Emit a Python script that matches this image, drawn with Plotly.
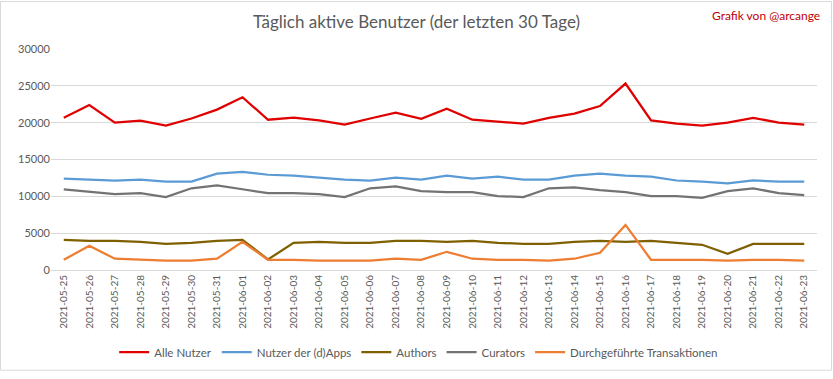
import plotly.graph_objects as go

dates = ["2021-05-25", "2021-05-26", "2021-05-27", "2021-05-28", "2021-05-29", "2021-05-30",
         "2021-05-31", "2021-06-01", "2021-06-02", "2021-06-03", "2021-06-04", "2021-06-05",
         "2021-06-06", "2021-06-07", "2021-06-08", "2021-06-09", "2021-06-10", "2021-06-11",
         "2021-06-12", "2021-06-13", "2021-06-14", "2021-06-15", "2021-06-16", "2021-06-17",
         "2021-06-18", "2021-06-19", "2021-06-20", "2021-06-21", "2021-06-22", "2021-06-23"]

alle_nutzer = [20660, 22390, 20000, 20270, 19600, 20570, 21770, 23450, 20400, 20700,
               20300, 19730, 20570, 21370, 20530, 21900, 20400, 20130, 19870, 20660,
               21240, 22260, 25310, 20300, 19870, 19600, 20000, 20660, 20000, 19730]
dapps = [12410, 12280, 12150, 12280, 12010, 12010, 13070, 13330, 12930, 12800,
         12540, 12280, 12150, 12540, 12280, 12800, 12410, 12670, 12280, 12280,
         12800, 13070, 12800, 12670, 12150, 12010, 11750, 12150, 12010, 12010]
authors = [4090, 3960, 3960, 3820, 3550, 3690, 3960, 4090, 1430, 3690,
           3820, 3690, 3690, 3960, 3960, 3820, 3960, 3690, 3550, 3550,
           3820, 3960, 3820, 3960, 3690, 3420, 2200, 3550, 3550, 3550]
curators = [10960, 10600, 10300, 10430, 9900, 11090, 11490, 10960, 10430, 10430,
            10300, 9900, 11090, 11360, 10700, 10570, 10570, 10040, 9900, 11090,
            11220, 10830, 10570, 10040, 10040, 9780, 10700, 11090, 10430, 10170]
transaktionen = [1390, 3280, 1530, 1390, 1260, 1260, 1530, 3820, 1390, 1390,
                 1260, 1260, 1260, 1530, 1390, 2470, 1530, 1390, 1390, 1260,
                 1530, 2340, 6120, 1390, 1390, 1390, 1260, 1390, 1390, 1260]

y_ticks = [0, 5000, 10000, 15000, 20000, 25000, 30000]

series = [
    ("Alle Nutzer", alle_nutzer, "#E00000"),
    ("Nutzer der (d)Apps", dapps, "#5B9BD5"),
    ("Authors", authors, "#7F6000"),
    ("Curators", curators, "#737373"),
    ("Durchgeführte Transaktionen", transaktionen, "#ED7D31"),
]

fig = go.Figure()
for name, vals, color in series:
    fig.add_trace(go.Scatter(x=dates, y=vals, name=name, mode="lines",
                             line=dict(color=color, width=2.25)))

font_family = "Lato"
fig.update_layout(
    width=833, height=379,
    margin=dict(l=51, r=16, t=49, b=104),
    paper_bgcolor="white", plot_bgcolor="white",
    font=dict(family=font_family, color="#595959"),
    title=dict(text="Täglich aktive Benutzer (der letzten 30 Tage)",
               xref="container", x=0.5, xanchor="center",
               yref="container", y=1 - 22 / 379, yanchor="middle",
               font=dict(size=17, color="#595959", family=font_family)),
    legend=dict(orientation="h", x=0.48, xanchor="center", y=-0.372, yanchor="middle",
                font=dict(size=11.5, color="#595959"), itemwidth=30,
                tracegroupgap=0),
    showlegend=True,
)
fig.update_xaxes(type="category", range=[-0.5, len(dates) - 0.5],
                 tickangle=-90, tickfont=dict(size=10, color="#595959"),
                 showgrid=False, showline=True, linecolor="#D9D9D9", linewidth=1,
                 ticks="", zeroline=False)
fig.update_yaxes(range=[0, 30000], tickvals=y_ticks, ticktext=[str(v) for v in y_ticks],
                 tickfont=dict(size=11, color="#595959"),
                 showgrid=True, gridcolor="#D9D9D9", gridwidth=1,
                 zeroline=False, showline=False, ticks="", ticklen=0)

fig.add_annotation(text="Grafik von @arcange", xref="paper", yref="paper",
                   x=(822 - 51) / 766, xanchor="right", y=(275 - 15) / 226, yanchor="middle",
                   showarrow=False, font=dict(size=12, color="#C00000", family=font_family))

fig.add_shape(type="rect", xref="paper", yref="paper",
              x0=(0.5 - 51) / 766, x1=(831.5 - 51) / 766,
              y0=(275 - 377.5) / 226, y1=(275 - 0.5) / 226,
              line=dict(color="#D9D9D9", width=1), fillcolor="rgba(0,0,0,0)", layer="below")

fig.write_html("out.html", config={"displayModeBar": False},
               post_script="document.body.style.margin='0';document.body.style.overflow='hidden';")
